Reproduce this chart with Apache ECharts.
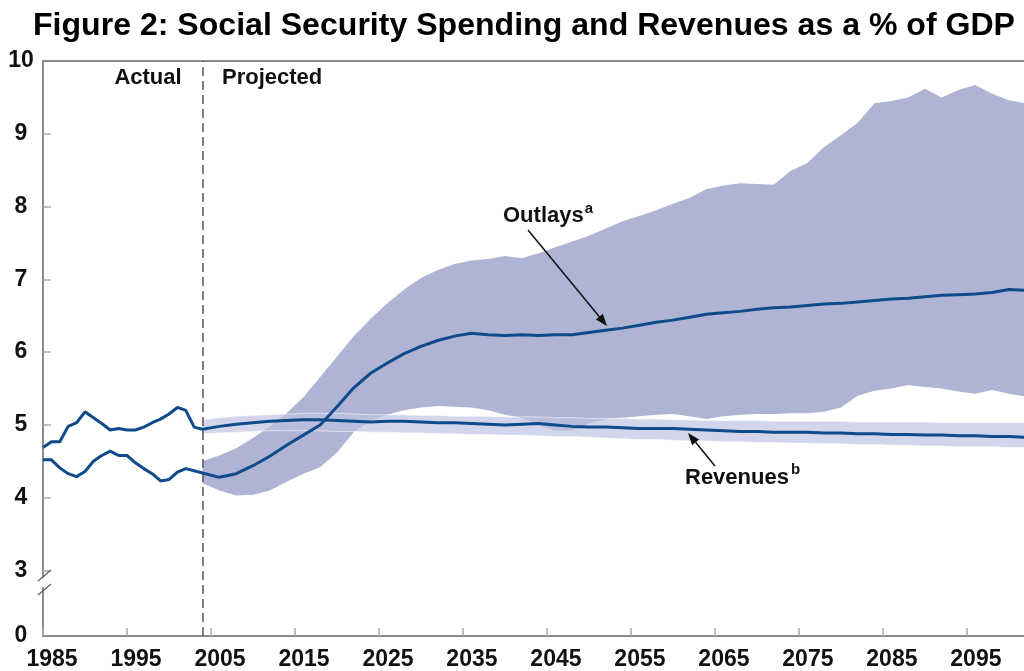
<!DOCTYPE html>
<html><head><meta charset="utf-8">
<script src="https://cdn.jsdelivr.net/npm/echarts@6/dist/echarts.min.js"></script>
<style>html,body{margin:0;padding:0;background:#fff}#c{width:1024px;height:671px}</style>
</head><body><div id="c"></div>
<script>
// ---------- DATA ----------
const histYears = [1985,1986,1987,1988,1989,1990,1991,1992,1993,1994,1995,1996,1997,1998,1999,2000,2001,2002,2003];
const histOutlays = [4.52,4.52,4.41,4.33,4.29,4.36,4.50,4.58,4.64,4.58,4.58,4.48,4.40,4.33,4.23,4.25,4.35,4.40,4.37];
const histRevenues = [4.69,4.77,4.77,4.98,5.03,5.18,5.10,5.02,4.93,4.95,4.93,4.93,4.97,5.03,5.08,5.15,5.24,5.20,4.97];

const projYears = [2004,2006,2008,2010,2012,2014,2016,2018,2020,2022,2024,2026,2028,2030,2032,2034,2036,2038,2040,2042,
  2044,2046,2048,2050,2052,2054,2056,2058,2060,2062,2064,2066,2068,2070,2072,2074,2076,2078,2080,2082,
  2084,2086,2088,2090,2092,2094,2096,2098,2100,2102];
const projOutlays = [4.34,4.28,4.33,4.44,4.57,4.72,4.86,5.00,5.25,5.51,5.71,5.85,5.98,6.08,6.16,6.22,6.26,6.24,6.23,6.24,
  6.23,6.24,6.24,6.27,6.30,6.33,6.37,6.41,6.44,6.48,6.52,6.54,6.56,6.59,6.61,6.62,6.64,6.66,6.67,6.69,
  6.71,6.73,6.74,6.76,6.78,6.79,6.80,6.82,6.86,6.85];
const projRevenues = [4.94,4.98,5.01,5.03,5.05,5.06,5.07,5.07,5.06,5.05,5.04,5.05,5.05,5.04,5.03,5.03,5.02,5.01,5.00,5.01,
  5.02,5.00,4.98,4.97,4.97,4.96,4.95,4.95,4.95,4.94,4.93,4.92,4.91,4.91,4.90,4.90,4.90,4.89,4.89,4.88,
  4.88,4.87,4.87,4.86,4.86,4.85,4.85,4.84,4.84,4.83];
const outlaysUpper = [4.50,4.58,4.68,4.82,4.98,5.16,5.38,5.66,5.94,6.22,6.46,6.67,6.86,7.02,7.13,7.21,7.26,7.28,7.32,7.29,
  7.36,7.44,7.52,7.60,7.70,7.80,7.87,7.95,8.04,8.12,8.24,8.29,8.32,8.31,8.30,8.49,8.60,8.82,8.98,9.15,
  9.42,9.45,9.50,9.62,9.50,9.60,9.67,9.55,9.46,9.42];
const outlaysLower = [4.20,4.10,4.03,4.04,4.10,4.22,4.33,4.42,4.62,4.90,5.06,5.14,5.20,5.24,5.26,5.25,5.24,5.20,5.14,5.10,
  5.00,4.92,4.92,5.02,5.08,5.10,5.12,5.14,5.15,5.12,5.08,5.12,5.14,5.15,5.15,5.16,5.16,5.18,5.24,5.40,
  5.47,5.50,5.55,5.52,5.50,5.46,5.43,5.48,5.43,5.39];
const revenuesUpper = [5.07,5.10,5.12,5.13,5.14,5.15,5.16,5.16,5.16,5.15,5.14,5.14,5.14,5.13,5.13,5.12,5.12,5.12,5.11,5.11,
  5.11,5.10,5.10,5.09,5.09,5.09,5.08,5.08,5.07,5.07,5.06,5.06,5.06,5.06,5.05,5.05,5.05,5.05,5.05,5.04,
  5.04,5.04,5.04,5.04,5.03,5.03,5.03,5.03,5.03,5.03];
const revenuesLower = [4.88,4.89,4.90,4.91,4.92,4.92,4.92,4.92,4.91,4.91,4.90,4.90,4.89,4.89,4.88,4.88,4.87,4.87,4.86,4.86,
  4.85,4.84,4.84,4.83,4.82,4.81,4.80,4.80,4.79,4.78,4.78,4.77,4.77,4.76,4.76,4.75,4.75,4.74,4.74,4.73,
  4.73,4.72,4.72,4.71,4.71,4.70,4.70,4.70,4.69,4.69];

const xTickLabels = [1985,1995,2005,2015,2025,2035,2045,2055,2065,2075,2085,2095];
const yTickLabels = [2.1,3,4,5,6,7,8,9,10];   // 2.1 = bottom of broken axis, shown as "0"
const yTicks = [3,4,5,6,7,8,9];
const projectionStart = 2004;

const TITLE = 'Figure 2: Social Security Spending and Revenues as a % of GDP';

// ---------- STYLE ----------
const FONT = '"Liberation Sans", Arial, Helvetica, sans-serif';
const TFONT = '"Liberation Sans Narrow", "Arial Narrow", "Liberation Sans", Arial, sans-serif';
const LINE = '#0f4a8a';
const AXIS = '#8c8c8c';

const outlaysAll = histYears.map((y,i)=>[y,histOutlays[i]]).concat(projYears.map((y,i)=>[y,projOutlays[i]]));
const revenuesAll = histYears.map((y,i)=>[y,histRevenues[i]]).concat(projYears.map((y,i)=>[y,projRevenues[i]]));

function band(name, lower, upper, fill, edge, z) {
  return {
    type: 'custom', name: name, silent: true, z: z, clip: true,
    data: projYears.map((y,i)=>[y, lower[i], upper[i]]),
    encode: {x: 0, y: [1,2]},
    renderItem: function (params, api) {
      if (params.dataIndex !== 0) return null;
      const top = projYears.map((y,i)=>api.coord([y, upper[i]]));
      const bot = projYears.map((y,i)=>api.coord([y, lower[i]]));
      const children = [{type:'polygon', shape:{points: top.concat(bot.slice().reverse())}, style:{fill: fill}}];
      if (edge) {
        children.push({type:'polyline', shape:{points: top}, style:{stroke: edge, lineWidth: 1, fill: 'none'}});
        children.push({type:'polyline', shape:{points: bot}, style:{stroke: edge, lineWidth: 1, fill: 'none'}});
      }
      return {type:'group', children: children};
    }
  };
}

const mctx = document.createElement('canvas').getContext('2d');
function measure(text, font){ mctx.font = font; return mctx.measureText(text).width; }

const titleFont = 'bold 32px ' + TFONT;
const titleW = measure(TITLE, titleFont);
const titleScale = 982 / titleW;

const annFont = 'bold 22px ' + FONT;
const supFont = 'bold 15px ' + FONT;
const outlaysW = measure('Outlays', annFont);
const revenuesW = measure('Revenues', annFont);

function arrow(x1,y1,x2,y2){
  const ang = Math.atan2(y2-y1, x2-x1), L = 12, W = 4.5;
  const bx = x2 - L*Math.cos(ang), by = y2 - L*Math.sin(ang);
  const px = -Math.sin(ang)*W, py = Math.cos(ang)*W;
  return [
    {type:'line', z:50, shape:{x1:x1,y1:y1,x2:bx,y2:by}, style:{stroke:'#111', lineWidth:1.5}},
    {type:'polygon', z:50, shape:{points:[[x2,y2],[bx+px,by+py],[bx-px,by-py]]}, style:{fill:'#111'}}
  ];
}

const graphics = [
  {type:'text', x:524, y:26, scaleX: titleScale, z:50,
    style:{text: TITLE, font: titleFont, fill:'#000', align:'center', verticalAlign:'middle'}},
  {type:'text', x:148, y:78, z:50, style:{text:'Actual', font: annFont, fill:'#111', align:'center', verticalAlign:'middle'}},
  {type:'text', x:222, y:78, z:50, style:{text:'Projected', font: annFont, fill:'#111', align:'left', verticalAlign:'middle'}},
  {type:'text', x:503, y:216, z:50, style:{text:'Outlays', font: annFont, fill:'#111', align:'left', verticalAlign:'middle'}},
  {type:'text', x:503+outlaysW+1, y:209, z:50, style:{text:'a', font: supFont, fill:'#111', align:'left', verticalAlign:'middle'}},
  {type:'text', x:685, y:478, z:50, style:{text:'Revenues', font: annFont, fill:'#111', align:'left', verticalAlign:'middle'}},
  {type:'text', x:685+revenuesW+2, y:470, z:50, style:{text:'b', font: supFont, fill:'#111', align:'left', verticalAlign:'middle'}},
  // axis break
  {type:'rect', z:60, shape:{x:40, y:578, width:7, height:9}, style:{fill:'#fff'}},
  {type:'line', z:61, shape:{x1:38, y1:581, x2:51, y2:570}, style:{stroke:'#666', lineWidth:1.5}},
  {type:'line', z:61, shape:{x1:38, y1:595, x2:51, y2:584}, style:{stroke:'#666', lineWidth:1.5}}
].concat(arrow(528,230,607,326)).concat(arrow(715,466,688,433));

const option = {
  animation: false,
  backgroundColor: '#fff',
  grid: {left: 43, right: 0, top: 61, bottom: 34},
  xAxis: [{
    type: 'value', min: 1985, max: 2101.8,
    axisLine: {show: true, lineStyle: {color: AXIS, width: 2}},
    axisTick: {show: true, inside: true, length: 8, customValues: xTickLabels, lineStyle: {color: '#aaa', width: 1.5}},
    axisLabel: {customValues: xTickLabels, formatter: v => String(v), fontSize: 23, fontWeight: 'bold', fontFamily: FONT, color: '#111', margin: 12, padding: [0,0,0,18]},
    splitLine: {show: false}
  }, {
    type: 'value', position: 'top', min: 1985, max: 2101.8,
    axisLine: {show: true, lineStyle: {color: AXIS, width: 2}},
    axisTick: {show: false}, axisLabel: {show: false}, splitLine: {show: false}
  }],
  yAxis: {
    type: 'value', min: 2.1, max: 10,
    axisLine: {show: true, lineStyle: {color: AXIS, width: 2}},
    axisTick: {show: true, inside: true, length: 8, customValues: yTicks, lineStyle: {color: '#aaa', width: 1.5}},
    axisLabel: {customValues: yTickLabels, formatter: v => (v < 2.5 ? '0' : String(v)), fontSize: 23, fontWeight: 'bold', fontFamily: FONT, color: '#111', align: 'center', margin: 22},
    splitLine: {show: false}
  },
  series: [
    band('Outlays range', outlaysLower, outlaysUpper, '#b0b4d4', null, 1),
    band('Revenues range', revenuesLower, revenuesUpper, 'rgba(190,194,226,0.68)', 'rgba(255,255,255,0.55)', 2),
    {type: 'line', name: 'Outlays', data: outlaysAll, showSymbol: false, symbol: 'none', z: 5,
      lineStyle: {color: LINE, width: 3}, silent: true,
      markLine: {symbol: ['none','none'], silent: true, label: {show: false},
        lineStyle: {color: '#555', type: [9,5], width: 1.5}, data: [{xAxis: projectionStart}]}},
    {type: 'line', name: 'Revenues', data: revenuesAll, showSymbol: false, symbol: 'none', z: 5,
      lineStyle: {color: LINE, width: 3}, silent: true}
  ],
  graphic: graphics
};

const chart = echarts.init(document.getElementById('c'));
chart.setOption(option);
</script></body></html>
